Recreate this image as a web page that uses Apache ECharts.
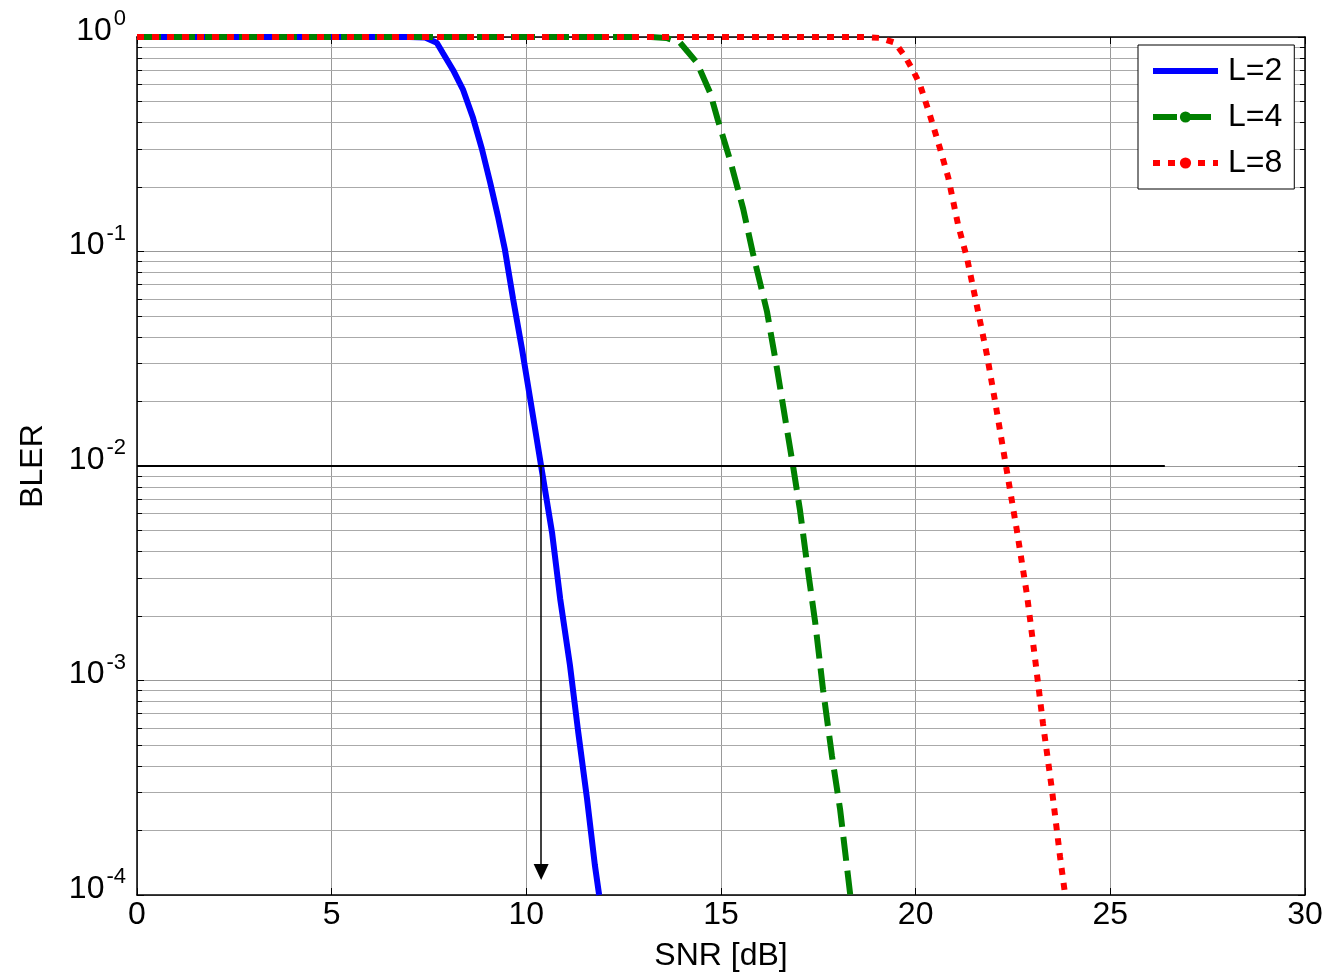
<!DOCTYPE html>
<html>
<head>
<meta charset="utf-8">
<script src="https://cdn.jsdelivr.net/npm/echarts@6/dist/echarts.min.js"></script>
<style>
html,body{margin:0;padding:0;background:#fff;}
#chart{width:1342px;height:977px;}
</style>
</head>
<body>
<div id="chart"></div>
<script>
// ---- data ----
const snrL2 = [0, 7.0, 7.4, 7.7, 7.86, 8.12, 8.37, 8.63, 8.86, 9.07, 9.27, 9.45, 9.66, 9.89, 10.1, 10.38, 10.66, 10.87, 11.12, 11.33, 11.56, 11.76, 11.87];
const blerL2 = [1, 1, 0.995, 0.94, 0.84, 0.70, 0.57, 0.42, 0.30, 0.21, 0.146, 0.102, 0.06, 0.035, 0.0205, 0.01, 0.0049, 0.0024, 0.00118, 5.8e-4, 2.8e-4, 1.38e-4, 1e-4];

const snrL4 = [0, 13.2, 13.6, 13.95, 14.38, 14.72, 14.92, 15.23, 15.57, 15.82, 16.18, 16.44, 16.7, 16.85, 17.03, 17.21, 17.42, 17.62, 17.85, 18.06, 18.32];
const blerL4 = [1, 1, 0.99, 0.94, 0.76, 0.55, 0.41, 0.268, 0.158, 0.098, 0.0526, 0.0283, 0.0146, 0.01, 0.0062, 0.0035, 0.00186, 9.1e-4, 4.45e-4, 2.5e-4, 1e-4];

const snrL8 = [0, 18.7, 19.08, 19.47, 19.73, 19.93, 20.11, 20.37, 20.63, 20.84, 21.09, 21.32, 21.58, 21.83, 22.04, 22.32, 22.6, 22.86, 23.07, 23.27, 23.5, 23.71, 23.84];
const blerL8 = [1, 1, 0.99, 0.94, 0.81, 0.70, 0.60, 0.43, 0.30, 0.22, 0.133, 0.093, 0.055, 0.033, 0.02, 0.01, 0.005, 0.0025, 0.00125, 6.3e-4, 3.1e-4, 1.5e-4, 1e-4];

const seriesNames = ['L=2', 'L=4', 'L=8'];
const xTicks = [0, 5, 10, 15, 20, 25, 30];
const yDecades = [-4, -3, -2, -1, 0];
const minorMultipliers = [2, 3, 4, 5, 6, 7, 8, 9];

// reference annotations
const targetBler = 0.01;
const hLineEndSnr = 26.4;
const arrowSnr = 10.38;
const arrowEndBler = 1.28e-4;

// ---- build ----
const FONT = 'Liberation Sans';
const zip = (xs, ys) => xs.map((x, i) => [x, ys[i]]);

const minorVals = [];
yDecades.slice(0, -1).forEach(d => minorMultipliers.forEach(m => minorVals.push(m * Math.pow(10, d))));

const gridLines = minorVals.map(v => [{coord: [xTicks[0], v]}, {coord: [xTicks[xTicks.length - 1], v]}]);
const minorTicksL = minorVals.map(v => [{coord: [0, v]}, {coord: [0.13, v]}]);
const minorTicksR = minorVals.map(v => [{coord: [29.87, v]}, {coord: [30, v]}]);

function supLabel(v) {
  const e = Math.round(Math.log10(v));
  return '{b|10}{s|' + e + '}';
}

const lineColors = ['#0000ff', '#008000', '#ff0000'];
const lineTypes = ['solid', [24, 10], [7, 8]];

const option = {
  backgroundColor: '#fff',
  animation: false,
  textStyle: {fontFamily: FONT, color: '#000'},
  grid: {left: 137, right: 37, top: 37, bottom: 80, containLabel: false},
  legend: {
    z: 50,
    zlevel: 0,
    data: seriesNames.map((n, i) => i === 0
      ? {name: n, icon: 'path://M0,0L65,0L65,6L0,6Z',
         itemStyle: {color: lineColors[0], borderWidth: 0, opacity: 1}}
      : {name: n, itemStyle: {color: lineColors[i], borderWidth: 0},
         lineStyle: {color: lineColors[i], width: 6, type: lineTypes[i], cap: 'butt'}}),
    orient: 'vertical',
    left: 1138,
    top: 45,
    padding: [8, 12, 8, 12],
    itemWidth: 65,
    itemHeight: 14,
    itemGap: 10,
    symbolKeepAspect: true,
    backgroundColor: '#fff',
    borderColor: '#000',
    borderWidth: 1,
    borderRadius: 0,
    textStyle: {fontFamily: FONT, fontSize: 32, color: '#000', lineHeight: 36, padding: [0, 0, 0, 5]}
  },
  xAxis: [{
    type: 'value', min: 0, max: 30, interval: 5,
    name: 'SNR [dB]', nameLocation: 'middle', nameGap: 45,
    nameTextStyle: {fontFamily: FONT, fontSize: 32, color: '#000'},
    axisLine: {show: true, onZero: false, lineStyle: {color: '#000', width: 1.5}},
    axisTick: {show: true, inside: true, length: 7, lineStyle: {color: '#000'}},
    axisLabel: {fontFamily: FONT, fontSize: 32, color: '#000', margin: 4},
    splitLine: {show: true, lineStyle: {color: '#999', width: 1}}
  }, {
    type: 'value', min: 0, max: 30, interval: 5, position: 'top',
    axisLine: {show: true, onZero: false, lineStyle: {color: '#000', width: 1.5}},
    axisTick: {show: true, inside: true, length: 7, lineStyle: {color: '#000'}},
    axisLabel: {show: false}, splitLine: {show: false}
  }],
  yAxis: [{
    type: 'log', logBase: 10, min: 1e-4, max: 1,
    name: 'BLER', nameLocation: 'middle', nameGap: 88, nameRotate: 90,
    nameTextStyle: {fontFamily: FONT, fontSize: 32, color: '#000'},
    axisLine: {show: true, onZero: false, lineStyle: {color: '#000', width: 1.5}},
    axisTick: {show: true, inside: true, length: 7, lineStyle: {color: '#000'}},
    axisLabel: {
      margin: 11,
      formatter: supLabel,
      rich: {
        b: {fontFamily: FONT, fontSize: 32, color: '#000', padding: [0, 0, 12, 0]},
        s: {fontFamily: FONT, fontSize: 22, color: '#000', padding: [0, 0, 36, 2]}
      }
    },
    splitLine: {show: true, lineStyle: {color: '#999', width: 1}}
  }, {
    type: 'log', logBase: 10, min: 1e-4, max: 1, position: 'right',
    axisLine: {show: true, onZero: false, lineStyle: {color: '#000', width: 1.5}},
    axisTick: {show: true, inside: true, length: 7, lineStyle: {color: '#000'}},
    axisLabel: {show: false}, splitLine: {show: false}
  }],
  series: [
    {
      type: 'line', name: 'helper', data: [], silent: true, z: 1,
      markLine: {
        silent: true, symbol: ['none', 'none'], animation: false, z: 1,
        label: {show: false},
        lineStyle: {color: '#aaa', width: 1, type: 'solid'},
        data: gridLines
      }
    },
    {
      type: 'line', name: 'ticks', data: [], silent: true, z: 1,
      markLine: {
        silent: true, symbol: ['none', 'none'], animation: false, z: 1,
        label: {show: false},
        lineStyle: {color: '#000', width: 1, type: 'solid'},
        data: minorTicksL.concat(minorTicksR)
      }
    },
    {
      type: 'line', name: seriesNames[0], data: zip(snrL2, blerL2),
      symbol: 'circle', symbolSize: 10, showSymbol: false, smooth: false, z: 3,
      lineStyle: {color: lineColors[0], width: 6, type: lineTypes[0], cap: 'butt'},
      itemStyle: {color: lineColors[0]}
    },
    {
      type: 'line', name: seriesNames[1], data: zip(snrL4, blerL4),
      symbol: 'circle', symbolSize: 10, showSymbol: false, smooth: false, z: 4,
      lineStyle: {color: lineColors[1], width: 6, type: lineTypes[1], cap: 'butt'},
      itemStyle: {color: lineColors[1]}
    },
    {
      type: 'line', name: seriesNames[2], data: zip(snrL8, blerL8),
      symbol: 'circle', symbolSize: 10, showSymbol: false, smooth: false, z: 5,
      lineStyle: {color: lineColors[2], width: 6, type: lineTypes[2], cap: 'butt'},
      itemStyle: {color: lineColors[2]}
    },
    {
      type: 'line', name: 'annot', data: [], silent: true, z: 6,
      markLine: {
        silent: true, animation: false, label: {show: false},
        data: [
          [{coord: [0, targetBler], symbol: 'none', lineStyle: {color: '#000', width: 2, type: 'solid'}},
           {coord: [hLineEndSnr, targetBler], symbol: 'none'}],
          [{coord: [arrowSnr, targetBler], symbol: 'none', lineStyle: {color: '#000', width: 1.5, type: 'solid'}},
           {coord: [arrowSnr, arrowEndBler], symbol: 'triangle', symbolSize: [15, 16], symbolRotate: 180}]
        ]
      }
    }
  ]
};

const chart = echarts.init(document.getElementById('chart'), null, {renderer: 'canvas'});
chart.setOption(option);
</script>
</body>
</html>
